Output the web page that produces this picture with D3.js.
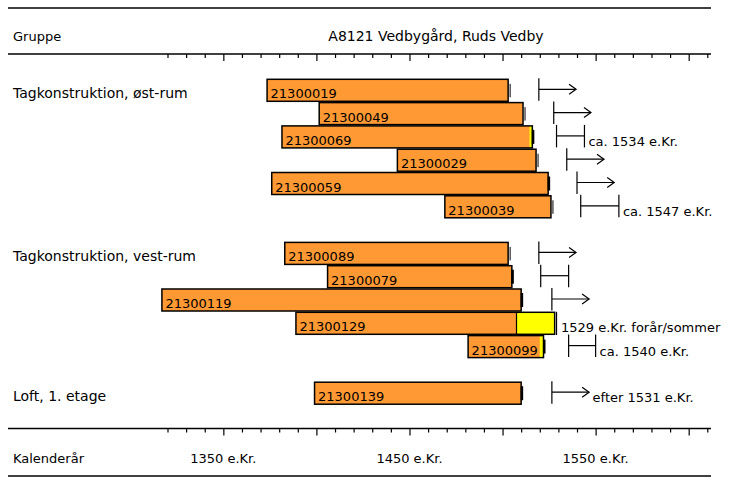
<!DOCTYPE html>
<html>
<head>
<meta charset="utf-8">
<script src="https://cdn.jsdelivr.net/npm/d3@7"></script>
<style>
  html, body { margin: 0; padding: 0; background: #fff; }
  text { font-family: "DejaVu Sans", sans-serif; font-size: 13px; fill: #000; }
  text.big { font-size: 14px; }
</style>
</head>
<body>
<svg id="chart" width="754" height="482"></svg>
<script>
// ---- data ----
const title = "A8121 Vedbygård, Ruds Vedby";
const headerLeft = "Gruppe";
const footerLeft = "Kalenderår";
const groups = ["Tagkonstruktion, øst-rum", "Tagkonstruktion, vest-rum", "Loft, 1. etage"];
const groupRows = [0, 7, 13];
const samples = ["21300019","21300049","21300069","21300029","21300059","21300039",
                 "21300089","21300079","21300119","21300129","21300099","21300139"];
const rows = [0, 1, 2, 3, 4, 5, 7, 8, 9, 10, 11, 13];
const startYears = [1373.5, 1401.5, 1381.5, 1443.5, 1376, 1469, 1383, 1406, 1317, 1389, 1481.5, 1399];
const endYears   = [1503, 1511, 1516, 1518, 1524.5, 1526, 1503, 1505, 1510, 1528, 1522, 1510];
const sapStart   = [null, null, 1514.5, null, null, null, null, null, null, 1507.5, 1520, null];
const endMark    = ["thin","thin","thick","thin","thick","thin","thin","thick","thick","line","thick","thick"];
const fellFrom   = [1519.5, 1527.5, 1529, 1534.5, 1540, 1542, 1519.5, 1520.5, 1526.5, null, 1535.5, 1526.5];
const fellTo     = [1539.5, 1547.5, 1544, 1554.5, 1560, 1562.5, 1539.5, 1535.5, 1546.5, null, 1550, 1546.5];
const fellType   = ["arrow","arrow","bracket","arrow","arrow","bracket","arrow","bracket","arrow","none","bracket","arrow"];
const fellLabels = ["","","ca. 1534 e.Kr.","","","ca. 1547 e.Kr.","","","","1529 e.Kr. forår/sommer","ca. 1540 e.Kr.","efter 1531 e.Kr."];
const markYear   = [null,null,null,null,null,null,null,null,null,1529,null,null];
const tickYears  = d3.range(1320, 1611, 10);
const labelYears = [1350, 1450, 1550];
const tickLabels = ["1350 e.Kr.", "1450 e.Kr.", "1550 e.Kr."];

// ---- scales ----
const svg = d3.select("#chart");
const x = d3.scaleLinear().domain([1320, 1610]).range([167.5, 707.3]);
const y = d3.scaleLinear().domain([0, 14]).range([79.3, 405.5]);
const barH = 22;
const ORANGE = "#FF9933", YELLOW = "#FFFF00";

// ---- frame lines ----
const lineX0 = 8, lineX1 = 711;
[8, 54, 428.5, 476].forEach(yy => {
  svg.append("line").attr("x1", lineX0).attr("x2", lineX1).attr("y1", yy).attr("y2", yy)
    .attr("stroke", "#000").attr("stroke-width", 1.5);
});

// ticks (top and bottom axis)
function drawTicks(y0) {
  const axis = d3.axisBottom(x).tickValues(tickYears).tickFormat("").tickSizeOuter(0)
    .tickSize(4);
  const g = svg.append("g").attr("transform", `translate(0,${y0})`).call(axis);
  g.select(".domain").remove();
  g.selectAll(".tick line")
    .attr("stroke", "#000").attr("stroke-width", 1.2)
    .attr("y2", d => (d % 50 === 0 ? 7 : 4));
}
drawTicks(54);
drawTicks(428.5);

// header / footer texts
svg.append("text").attr("x", 13).attr("y", 41).text(headerLeft);
svg.append("text").attr("class", "big").attr("x", 436).attr("y", 41).attr("text-anchor", "middle").text(title);
svg.append("text").attr("x", 13).attr("y", 463).text(footerLeft);
svg.selectAll("text.tl").data(labelYears).enter().append("text")
  .attr("class", "tl")
  .attr("x", d => x(d)).attr("y", 463).attr("text-anchor", "middle")
  .text((d, i) => tickLabels[i]);

// group labels
svg.selectAll("text.grp").data(groups).enter().append("text")
  .attr("class", "grp big")
  .attr("x", 13).attr("y", (d, i) => y(groupRows[i]) + 19)
  .text(d => d);

// ---- bars ----
const data = samples.map((s, i) => ({
  id: s, row: rows[i], start: startYears[i], end: endYears[i], sap: sapStart[i],
  mark: endMark[i], from: fellFrom[i], to: fellTo[i], type: fellType[i],
  label: fellLabels[i], markYear: markYear[i]
}));

const g = svg.append("g");
data.forEach(d => {
  const top = y(d.row), mid = top + barH / 2;
  g.append("rect").attr("x", x(d.start)).attr("y", top)
    .attr("width", x(d.end) - x(d.start)).attr("height", barH)
    .attr("fill", ORANGE).attr("stroke", "none");
  if (d.sap != null) {
    g.append("rect").attr("x", x(d.sap)).attr("y", top)
      .attr("width", x(d.end) - x(d.sap)).attr("height", barH)
      .attr("fill", YELLOW);
    g.append("line").attr("x1", x(d.sap)).attr("x2", x(d.sap))
      .attr("y1", top).attr("y2", top + barH)
      .attr("stroke", "#000").attr("stroke-width", d.mark === "line" ? 1.2 : 0);
  }
  g.append("rect").attr("x", x(d.start)).attr("y", top)
    .attr("width", x(d.end) - x(d.start)).attr("height", barH)
    .attr("fill", "none").attr("stroke", "#000").attr("stroke-width", 1.5);
  g.append("text").attr("x", x(d.start) + 3.5).attr("y", top + 19).text(d.id);

  // end marks
  if (d.mark === "thin") {
    g.append("line").attr("x1", x(d.end) + 2).attr("x2", x(d.end) + 2)
      .attr("y1", mid - 6.5).attr("y2", mid + 7)
      .attr("stroke", "#000").attr("stroke-width", 1);
  } else if (d.mark === "thick") {
    g.append("rect").attr("x", x(d.end) - 0.5).attr("y", mid - 7)
      .attr("width", 2.5).attr("height", 14).attr("fill", "#000");
  } else if (d.mark === "line" && d.markYear != null) {
    g.append("line").attr("x1", x(d.markYear)).attr("x2", x(d.markYear))
      .attr("y1", top - 0.5).attr("y2", top + barH + 0.7)
      .attr("stroke", "#000").attr("stroke-width", 1.2);
  }

  // felling estimates
  if (d.type === "arrow" || d.type === "bracket") {
    const x0 = x(d.from), x1 = x(d.to);
    g.append("line").attr("x1", x0).attr("x2", x0).attr("y1", top - 1).attr("y2", top + barH - 0.5)
      .attr("stroke", "#000").attr("stroke-width", 1.2);
    g.append("line").attr("x1", x0).attr("x2", x1).attr("y1", mid - 1).attr("y2", mid - 1)
      .attr("stroke", "#000").attr("stroke-width", 1.2);
    if (d.type === "arrow") {
      g.append("path")
        .attr("d", `M${x1 - 7},${mid - 6} L${x1},${mid - 1} L${x1 - 7},${mid + 4}`)
        .attr("fill", "none").attr("stroke", "#000").attr("stroke-width", 1.2);
    } else {
      g.append("line").attr("x1", x1).attr("x2", x1).attr("y1", top - 1).attr("y2", top + barH - 0.5)
        .attr("stroke", "#000").attr("stroke-width", 1.2);
    }
  }
  if (d.label) {
    let lx;
    if (d.type === "bracket") lx = x(d.to) + 4;
    else if (d.type === "arrow") lx = x(d.to) + 3.5;
    else lx = x(d.markYear) + 4.5;
    g.append("text").attr("x", lx).attr("y", top + 20).text(d.label);
  }
});
</script>
</body>
</html>
